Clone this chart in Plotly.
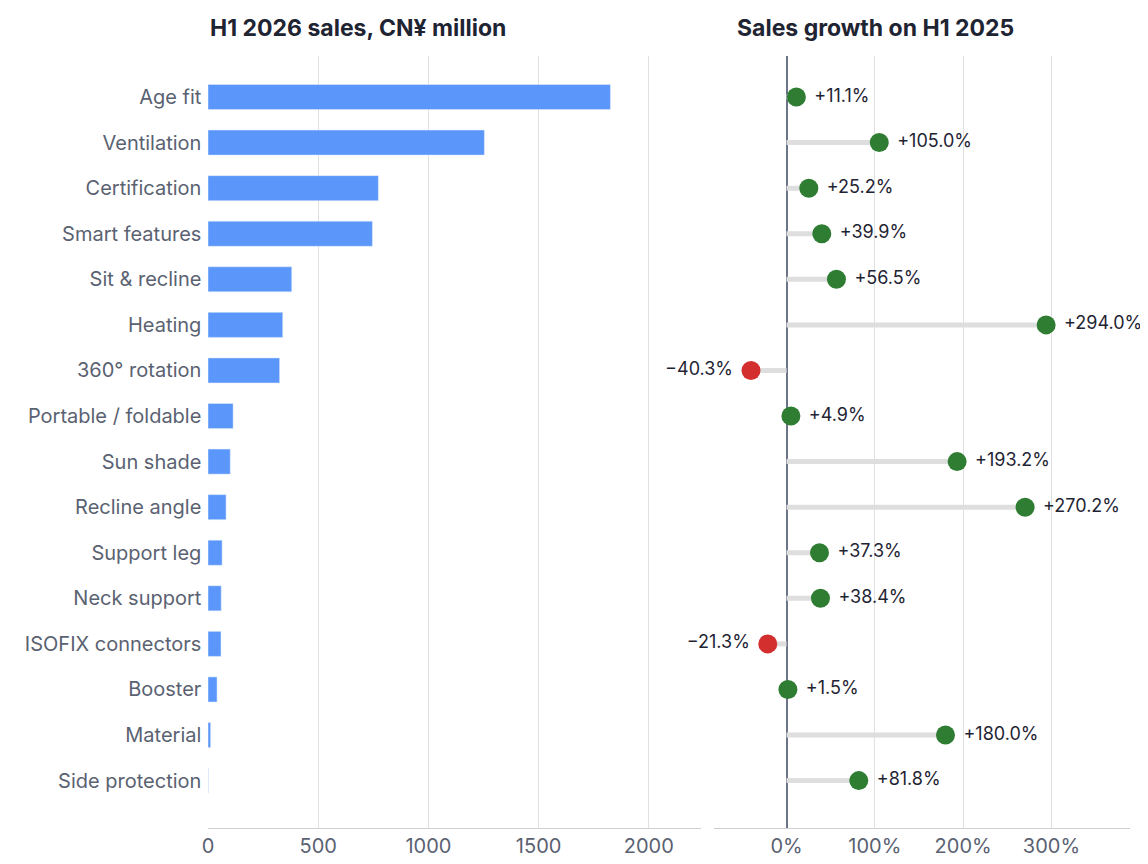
import plotly.graph_objects as go
from plotly.subplots import make_subplots

categories = ["Age fit","Ventilation","Certification","Smart features","Sit & recline","Heating",
              "360° rotation","Portable / foldable","Sun shade","Recline angle","Support leg",
              "Neck support","ISOFIX connectors","Booster","Material","Side protection"]
sales = [1826,1254,773,746,380,339,325,114,101,82,64,60,59,41,12,1]
growth = [11.1,105.0,25.2,39.9,56.5,294.0,-40.3,4.9,193.2,270.2,37.3,38.4,-21.3,1.5,180.0,81.8]
growth_ticks = [0, 100, 200, 300]
growth_ticklabels = ["0%", "100%", "200%", "300%"]

fig = make_subplots(rows=1, cols=2, shared_yaxes=False, horizontal_spacing=0.014,
                    column_widths=[0.535, 0.451])
fig.add_trace(go.Bar(y=categories, x=sales, orientation="h", marker_color="#5b97fb",
                     width=0.55, showlegend=False, hoverinfo="skip"), 1, 1)
for c, g in zip(categories, growth):
    fig.add_trace(go.Scatter(x=[0, g], y=[c, c], mode="lines", line=dict(color="#dedede", width=5),
                             showlegend=False, hoverinfo="skip"), 1, 2)
cols = ["#2e7d32" if g >= 0 else "#d32f2f" for g in growth]
labels = [("+" if g >= 0 else "−") + f"{abs(g):.1f}%" for g in growth]
pos = ["middle right" if g >= 0 else "middle left" for g in growth]
fig.add_trace(go.Scatter(x=growth, y=categories, mode="markers+text", marker=dict(color=cols, size=19),
                         text=[" " + l if g >= 0 else l + " " for l, g in zip(labels, growth)],
                         textposition=pos, textfont=dict(size=18, color="#1f2433"),
                         showlegend=False, hoverinfo="skip", cliponaxis=False), 1, 2)

yax = dict(categoryorder="array", categoryarray=categories, range=[16.04, -0.9],
           showgrid=False, zeroline=False, ticks="")
fig.update_yaxes(**yax, tickfont=dict(size=20, color="#5a6272"), ticksuffix=" ", row=1, col=1)
fig.update_yaxes(**yax, showticklabels=False, row=1, col=2)
fig.update_xaxes(range=[0, 2238], tickvals=[0,500,1000,1500,2000], showgrid=True, gridcolor="#e0e0e0",
                 zeroline=False, showline=True, linecolor="#cfcfcf", tickfont=dict(size=20, color="#5a6272"),
                 row=1, col=1)
fig.update_xaxes(range=[-82, 389], tickvals=growth_ticks, ticktext=growth_ticklabels, showgrid=True,
                 gridcolor="#e0e0e0", zeroline=True, zerolinecolor="#6b7488", zerolinewidth=2,
                 showline=True, linecolor="#cfcfcf", tickfont=dict(size=20, color="#5a6272"), row=1, col=2)
fig.update_layout(width=1148, height=864, margin=dict(l=200, r=26, t=48, b=44),
                  plot_bgcolor="white", paper_bgcolor="white", font=dict(family="Inter"))
fig.add_annotation(text="<b>H1 2026 sales, CN¥ million</b>", xref="x domain", yref="paper", x=0, y=1,
                   yshift=28, xanchor="left", yanchor="middle", showarrow=False,
                   font=dict(size=23, color="#1f2433"))
fig.add_annotation(text="<b>Sales growth on H1 2025</b>", xref="x2 domain", yref="paper", x=0.05, y=1,
                   yshift=28, xanchor="left", yanchor="middle", showarrow=False,
                   font=dict(size=23, color="#1f2433"))
fig.write_html("out.html")
